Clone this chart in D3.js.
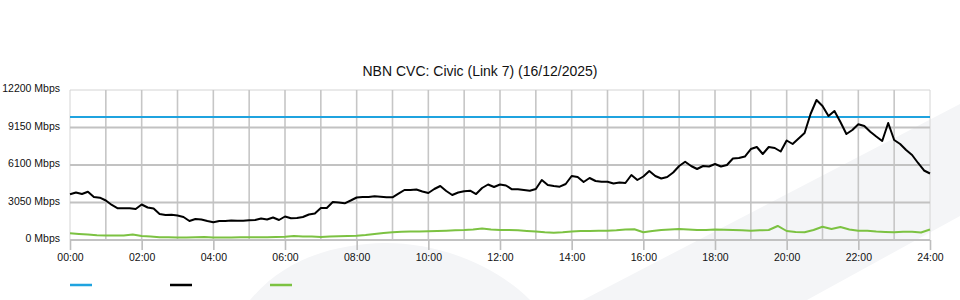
<!DOCTYPE html>
<html>
<head>
<meta charset="utf-8">
<script src="https://cdn.jsdelivr.net/npm/d3@7"></script>
<style>
  body { margin: 0; background: #fff; }
  .canvas text { font-family: "Liberation Sans", Arial, sans-serif; }
</style>
</head>
<body>
<div class="canvas"></div>
<script>
// values
const title = 'NBN CVC: Civic (Link 7) (16/12/2025)';
const xTickHours = [0, 2, 4, 6, 8, 10, 12, 14, 16, 18, 20, 22, 24];
const xTickLabels = ['00:00','02:00','04:00','06:00','08:00','10:00','12:00','14:00','16:00','18:00','20:00','22:00','24:00'];
const yTicks = [0, 3050, 6100, 9150, 12200];
const yTickLabels = ['0 Mbps','3050 Mbps','6100 Mbps','9150 Mbps','12200 Mbps'];

// blue: link capacity (flat)
const capacity = [10000, 10000];
// black: sampled every 10 minutes
const inbound = [3717,3863,3741,3928,3497,3440,3213,2847,2578,2578,
 2578,2521,2887,2643,2562,2115,2033,2058,1993,1871,
 1545,1708,1667,1545,1440,1545,1545,1586,1562,1570,
 1602,1627,1749,1667,1830,1627,1911,1765,1789,1871,
 2074,2155,2603,2603,3091,3050,2985,3213,3457,3497,
 3497,3562,3522,3473,3473,3766,4067,4067,4107,3945,
 3823,4148,4392,3985,3660,3863,3961,4010,3741,4229,
 4514,4311,4514,4433,4124,4124,4067,4010,4148,4880,
 4473,4392,4335,4555,5205,5124,4717,5043,4799,4742,
 4742,4595,4677,4636,5287,4880,5165,5612,5205,5002,
 5124,5490,6019,6368,6019,5775,6019,5978,6181,5978,
 6100,6629,6669,6791,7401,7564,6995,7564,7483,7198,
 8093,7808,8255,8703,10248,11387,10899,10085,10492,9597,
 8621,8947,9410,9272,8808,8418,8052,9516,8133,7808,
 7320,6913,6263,5653,5409];
// green: sampled every 15 minutes
const outbound = [545,488,447,382,366,366,366,447,325,285,
 228,220,203,203,220,244,203,203,203,220,
 220,220,220,244,268,325,285,285,244,285,
 301,325,350,407,488,569,626,675,691,691,
 708,732,756,789,813,854,935,854,813,813,
 789,732,691,626,594,626,691,732,732,756,
 756,789,854,870,626,732,813,854,895,854,
 813,813,854,838,813,789,756,789,813,1139,
 732,651,626,813,1082,895,1057,854,756,756,
 691,651,626,675,675,610,854];

const series = [
  {name: 'capacity', values: capacity, step: 24, color: '#1fa3df'},
  {name: 'inbound', values: inbound, step: 1/6, color: '#000000'},
  {name: 'outbound', values: outbound, step: 1/4, color: '#7cc242'}
];

const dims = {width: 960, height: 300};
const plot = {left: 70, right: 930, top: 90, bottom: 240};

const svg = d3.select('.canvas').append('svg')
  .attr('width', dims.width)
  .attr('height', dims.height);

const x = d3.scaleLinear().domain([0, 24]).range([plot.left, plot.right]);
const y = d3.scaleLinear().domain([0, 12200]).range([plot.bottom, plot.top]);

// faint background logo
const bg = svg.append('g').attr('fill', '#f4f5f7');
bg.append('path').attr('d', 'M583,300 L960,104 L960,216 L807,300 Z');
bg.append('path').attr('d', 'M250,300 C285,258 335,244 385,243 C440,243 495,265 530,300 Z');

// title
svg.append('text')
  .attr('x', 480).attr('y', 76)
  .attr('text-anchor', 'middle')
  .attr('font-size', '14px')
  .attr('fill', '#111')
  .text(title);

// grid
const grid = svg.append('g');
grid.append('line')
  .attr('x1', plot.left).attr('x2', plot.right)
  .attr('y1', plot.top).attr('y2', plot.top)
  .attr('stroke', '#d4d4d4').attr('stroke-width', 1);
grid.selectAll('.vgrid')
  .data(d3.range(0, 25))
  .enter().append('line')
  .attr('class', 'vgrid')
  .attr('x1', d => x(d)).attr('x2', d => x(d))
  .attr('y1', plot.top).attr('y2', plot.bottom)
  .attr('stroke', d => (d === 0 || d === 24) ? '#d4d4d4' : '#c6c6c6')
  .attr('stroke-width', d => (d === 0 || d === 24) ? 1 : 1.6);
grid.selectAll('.hgrid')
  .data(yTicks.slice(0, -1))
  .enter().append('line')
  .attr('class', 'hgrid')
  .attr('x1', plot.left).attr('x2', plot.right)
  .attr('y1', d => y(d)).attr('y2', d => y(d))
  .attr('stroke', '#c2c2c2')
  .attr('stroke-width', 2);

// axes
const xAxis = d3.axisBottom(x)
  .tickValues(xTickHours)
  .tickFormat((d, i) => xTickLabels[i])
  .tickSize(10)
  .tickPadding(4);
const xg = svg.append('g')
  .attr('transform', `translate(0,${plot.bottom})`)
  .call(xAxis);
xg.select('.domain').remove();
xg.selectAll('line').attr('stroke', '#bdbdbd').attr('stroke-width', 1.6);
xg.selectAll('text').attr('font-size', '10.5px').attr('fill', '#111')
  .attr('font-family', '"Liberation Sans", Arial, sans-serif');

const yAxis = d3.axisLeft(y)
  .tickValues(yTicks)
  .tickFormat((d, i) => yTickLabels[i])
  .tickSize(0)
  .tickPadding(10);
const yg = svg.append('g')
  .attr('transform', `translate(${plot.left},0)`)
  .call(yAxis);
yg.select('.domain').remove();
yg.selectAll('text').attr('font-size', '10.5px').attr('fill', '#111')
  .attr('dy', '0.15em')
  .attr('font-family', '"Liberation Sans", Arial, sans-serif');

// lines
const line = step => d3.line()
  .x((d, i) => x(i * step))
  .y(d => y(d));

svg.append('g').selectAll('path')
  .data(series)
  .enter().append('path')
  .attr('d', s => line(s.step)(s.values))
  .attr('fill', 'none')
  .attr('stroke', s => s.color)
  .attr('stroke-width', 2)
  .attr('stroke-linejoin', 'round');

// legend (no labels)
const legend = svg.append('g').attr('transform', 'translate(70,285)');
legend.selectAll('line')
  .data(series)
  .enter().append('line')
  .attr('x1', (d, i) => i * 100).attr('x2', (d, i) => i * 100 + 22)
  .attr('y1', 0).attr('y2', 0)
  .attr('stroke', d => d.color)
  .attr('stroke-width', 2.5);
</script>
</body>
</html>
